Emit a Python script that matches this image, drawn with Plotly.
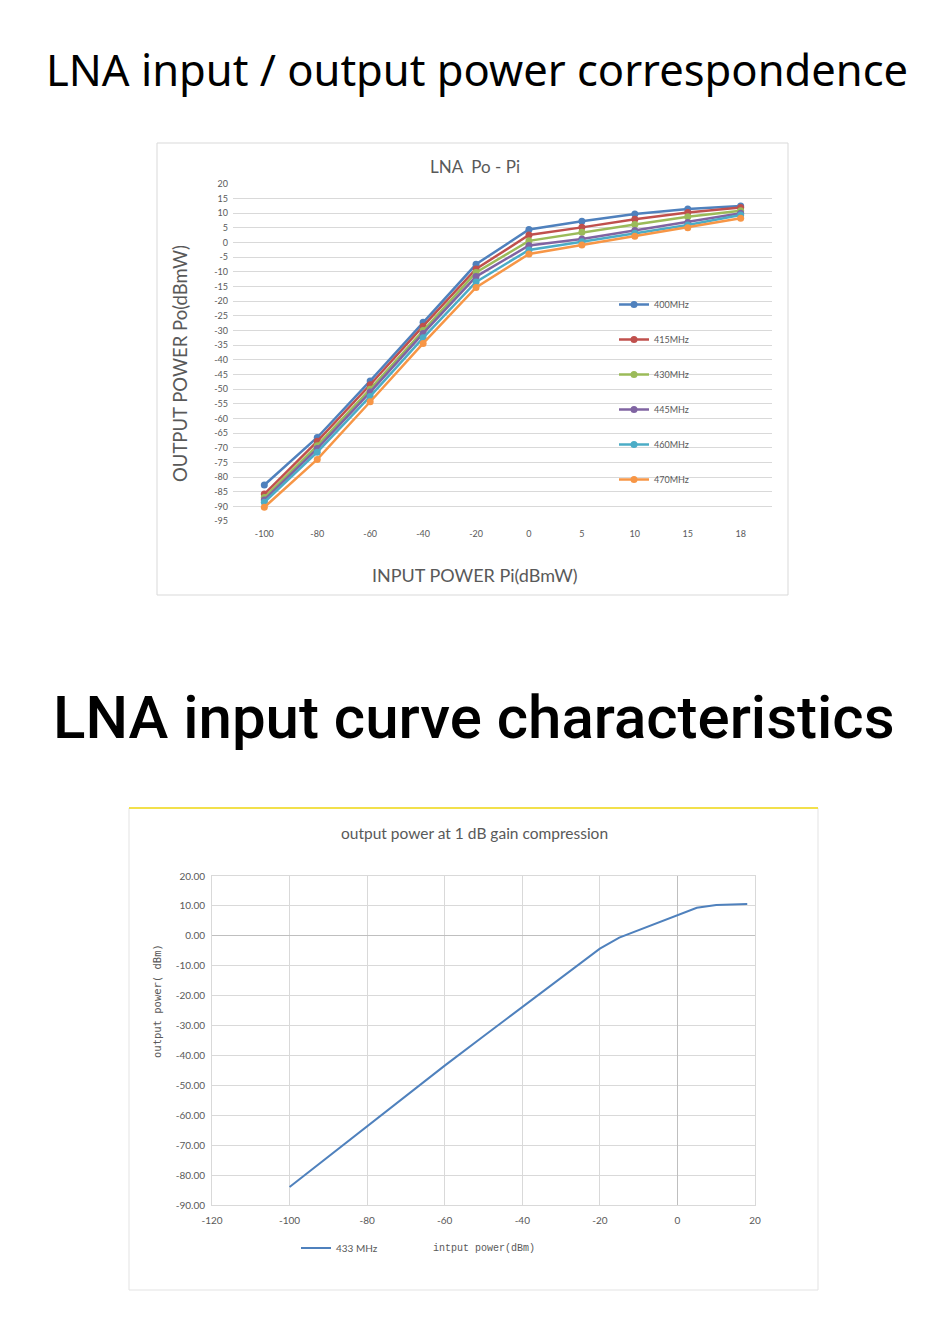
import plotly.graph_objects as go

# Chart 1 data: LNA Po - Pi, per frequency
pi_labels = ["-100", "-80", "-60", "-40", "-20", "0", "5", "10", "15", "18"]
po_400 = [-82.7, -66.5, -47.2, -27.2, -7.4, 4.5, 7.3, 9.8, 11.5, 12.5]
po_415 = [-85.8, -67.8, -48.5, -28.5, -9.0, 2.6, 5.2, 8.0, 10.3, 12.0]
po_430 = [-87.0, -69.3, -50.0, -30.0, -10.2, 0.6, 3.5, 6.2, 8.8, 10.9]
po_445 = [-87.8, -70.3, -51.0, -31.0, -11.6, -1.0, 1.2, 4.1, 6.9, 10.0]
po_460 = [-88.6, -71.5, -52.5, -32.5, -13.4, -2.5, 0.3, 3.2, 6.0, 9.4]
po_470 = [-90.3, -74.0, -54.3, -34.4, -15.3, -3.9, -0.8, 2.2, 5.1, 8.3]
freq_names = ["400MHz", "415MHz", "430MHz", "445MHz", "460MHz", "470MHz"]
freq_colors = ["#4F81BD", "#C0504D", "#9BBB59", "#8064A2", "#4BACC6", "#F79646"]
po_ticks = list(range(-95, 21, 5))
po_ticktext = [str(v) for v in po_ticks]

# Chart 2 data: 433 MHz compression curve
pin_433 = [-100, -90, -80, -70, -60, -50, -40, -30, -20, -15, -10, -5, 0, 5, 10, 15, 18]
pout_433 = [-84.0, -73.8, -63.7, -53.5, -43.4, -33.6, -23.9, -14.2, -4.3, -0.6, 1.9, 4.2, 6.9, 9.4, 10.3, 10.4, 10.6]
pin_ticks = [-120, -100, -80, -60, -40, -20, 0, 20]
pin_ticktext = ["-120", "-100", "-80", "-60", "-40", "-20", "0", "20"]
pout_ticks = [20, 10, 0, -10, -20, -30, -40, -50, -60, -70, -80, -90]
pout_ticktext = ["20.00", "10.00", "0.00", "-10.00", "-20.00", "-30.00",
                 "-40.00", "-50.00", "-60.00", "-70.00", "-80.00", "-90.00"]

# page is 950x1323, the body keeps an 8px margin around the figure
PAD = 8
W, H = 950 - 2 * PAD, 1323 - 2 * PAD
GRAY = "#595959"
GRID = "#d9d9d9"

# page pixel -> paper fraction
def px(x):
  return (x - PAD) / W

def py(y):
  return 1 - (y - PAD) / H

fig = go.Figure()

# Add the traces for chart 1
series = [po_400, po_415, po_430, po_445, po_460, po_470]
for i in range(0, len(series)):
  fig.add_trace(go.Scatter(
    x=pi_labels, y=series[i],
    mode="lines+markers",
    name=freq_names[i],
    line=dict(color=freq_colors[i], width=2.5),
    marker=dict(color=freq_colors[i], size=7),
    legendgroup="g" + str(i),
    legend="legend",
    xaxis="x", yaxis="y")
  )

# Chart 2 trace
fig.add_trace(go.Scatter(
  x=pin_433, y=pout_433,
  mode="lines",
  name="433 MHz",
  line=dict(color="#4F81BD", width=2),
  legend="legend2",
  xaxis="x2", yaxis="y2")
)

fig.update_layout(
  width=W, height=H,
  margin=dict(l=0, r=0, t=0, b=0, autoexpand=False),
  paper_bgcolor="white",
  plot_bgcolor="white",
  showlegend=True,
  xaxis=dict(
    domain=[px(233), px(772)], anchor="y", automargin=False,
    type="category", showgrid=False, zeroline=False, showline=False,
    ticks="", tickfont=dict(family="Lato", size=9, color=GRAY),
    ticklabelstandoff=6),
  yaxis=dict(
    domain=[py(521), py(184)], anchor="x", automargin=False,
    range=[-95, 20], tickvals=po_ticks, ticktext=po_ticktext,
    showgrid=True, gridcolor=GRID, gridwidth=1, zeroline=False,
    ticks="", tickfont=dict(family="Lato", size=9, color=GRAY),
    ticklabelstandoff=4),
  xaxis2=dict(
    domain=[px(212), px(755)], anchor="y2", automargin=False,
    range=[-120, 20], tickvals=pin_ticks, ticktext=pin_ticktext,
    showgrid=True, gridcolor=GRID, zeroline=True, zerolinecolor="#bfbfbf",
    zerolinewidth=1, showline=True, mirror=True, linecolor=GRID,
    ticks="", tickfont=dict(family="Lato", size=10, color=GRAY),
    ticklabelstandoff=6),
  yaxis2=dict(
    domain=[py(1205), py(876)], anchor="x2", automargin=False,
    range=[-90, 20], tickvals=pout_ticks, ticktext=pout_ticktext,
    showgrid=True, gridcolor=GRID, zeroline=True, zerolinecolor="#bfbfbf",
    zerolinewidth=1, showline=True, mirror=True, linecolor=GRID,
    ticks="", tickfont=dict(family="Lato", size=10, color=GRAY),
    ticklabelstandoff=4),
  legend=dict(
    x=px(614), y=py(290), xanchor="left", yanchor="top",
    orientation="v", tracegroupgap=16, bgcolor="rgba(0,0,0,0)",
    font=dict(family="Lato", size=9, color=GRAY), itemwidth=30),
  legend2=dict(
    x=px(296), y=py(1248), xanchor="left", yanchor="middle",
    orientation="h", bgcolor="rgba(0,0,0,0)",
    font=dict(family="Lato", size=10, color=GRAY), itemwidth=30),
)

# Chart frames
fig.add_shape(type="rect", xref="paper", yref="paper",
  x0=px(157), x1=px(788), y0=py(595), y1=py(143),
  line=dict(color=GRID, width=1), layer="below")
fig.add_shape(type="rect", xref="paper", yref="paper",
  x0=px(129), x1=px(818), y0=py(1290), y1=py(808),
  line=dict(color="#e3e3e3", width=1), layer="below")
fig.add_shape(type="line", xref="paper", yref="paper",
  x0=px(129), x1=px(818), y0=py(808), y1=py(808),
  line=dict(color="#f2e04b", width=2))

# Headings, chart titles and axis titles
notes = [
  ("LNA input / output power correspondence", 477, 69, "Noto Sans", 43.5, "black", 400, 0),
  ("LNA input curve characteristics", 474, 717, "Roboto", 60, "black", 500, 0),
  ("LNA  Po - Pi", 475, 166, "Lato", 17, GRAY, 400, 0),
  ("OUTPUT POWER Po(dBmW)", 180, 364, "Lato", 18.5, GRAY, 400, -90),
  ("INPUT POWER Pi(dBmW)", 475, 575, "Lato", 18, GRAY, 400, 0),
  ("output power at 1 dB gain compression", 474, 833, "Lato", 15.5, GRAY, 400, 0),
  ("output power( dBm)", 157, 1001, "DejaVu Sans Mono", 10.5, GRAY, 400, -90),
  ("intput power(dBm)", 484, 1248, "Liberation Mono", 10, GRAY, 400, 0),
]
for text, x, y, fam, size, color, weight, angle in notes:
  fig.add_annotation(
    text=text, x=px(x), y=py(y), xref="paper", yref="paper",
    xanchor="center", yanchor="middle", showarrow=False, textangle=angle,
    font=dict(family=fam, size=size, color=color, weight=weight))

fig.write_html("out.html")
